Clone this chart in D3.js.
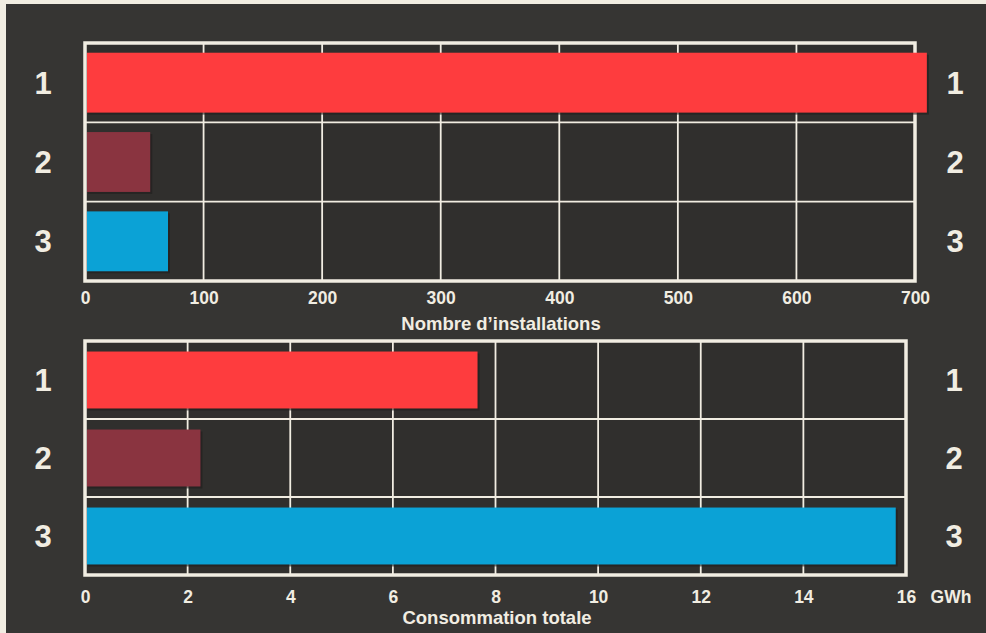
<!DOCTYPE html>
<html>
<head>
<meta charset="utf-8">
<script src="https://cdn.jsdelivr.net/npm/d3@7"></script>
<style>
  html, body { margin: 0; padding: 0; background: #f1ede2; }
  svg { display: block; }
  text { font-family: "Liberation Sans", Arial, Helvetica, sans-serif; font-weight: bold; fill: #f1ede2; }
</style>
</head>
<body>
<svg id="chart" width="986" height="633"></svg>
<script>
// ---- Data ----
const categories = ["1", "2", "3"];
const installations = [710, 55, 70];          // Nombre d'installations
const consumption = [7.65, 2.25, 15.8];        // Consommation totale (GWh)
const barColors = ["#fe3c3e", "#8a3440", "#0ba2d6"];
const installTicks = [0, 100, 200, 300, 400, 500, 600, 700];
const consTicks = [0, 2, 4, 6, 8, 10, 12, 14, 16];
const installTitle = "Nombre d’installations";
const consTitle = "Consommation totale";
const consUnit = "GWh";

// ---- Style ----
const BG = "#363533";
const CREAM = "#f1ede2";
const TICK_FS = 17.5;
const TITLE_FS = 18.5;

const svg = d3.select("#chart");
svg.append("rect").attr("x", 6).attr("y", 4).attr("width", 980).attr("height", 629).attr("fill", BG);

function drawPanel(opts) {
  const g = svg.append("g");
  const x = d3.scaleLinear().domain(opts.domain).range([opts.left, opts.right]);
  const y = d3.scaleBand().domain(categories).range([opts.top, opts.bottom]).padding(0);
  const bw = y.bandwidth();
  const barH = bw * opts.barFrac;

  // slightly darker panel interior
  g.append("rect")
    .attr("x", opts.left).attr("y", opts.top)
    .attr("width", opts.right - opts.left).attr("height", opts.bottom - opts.top)
    .attr("fill", "#302f2d");
  // vertical grid lines
  g.selectAll(".vgrid").data(opts.ticks.slice(1, -1)).join("line")
    .attr("x1", d => x(d)).attr("x2", d => x(d))
    .attr("y1", opts.top).attr("y2", opts.bottom)
    .attr("stroke", CREAM).attr("stroke-width", 1.8);
  // horizontal row separators
  g.selectAll(".hgrid").data(categories.slice(1)).join("line")
    .attr("x1", opts.left).attr("x2", opts.right)
    .attr("y1", d => y(d)).attr("y2", d => y(d))
    .attr("stroke", CREAM).attr("stroke-width", 1.8);
  // frame
  g.append("rect")
    .attr("x", opts.left).attr("y", opts.top)
    .attr("width", opts.right - opts.left).attr("height", opts.bottom - opts.top)
    .attr("fill", "none").attr("stroke", CREAM).attr("stroke-width", 3.5);

  const rows = categories.map((c, i) => ({ c, v: opts.values[i], color: barColors[i] }));
  // subtle bar shadows (right / bottom)
  g.selectAll(".shadow").data(rows).join("rect")
    .attr("x", x(0) + 3).attr("y", d => y(d.c) + (bw - barH) / 2 + 2)
    .attr("width", d => x(d.v) - x(0) - 1).attr("height", barH)
    .attr("fill", "#1f1e1d").attr("opacity", 0.6);
  // bars
  g.selectAll(".bar").data(rows).join("rect")
    .attr("x", x(0) + 2).attr("y", d => y(d.c) + (bw - barH) / 2)
    .attr("width", d => x(d.v) - x(0) - 2).attr("height", barH)
    .attr("fill", d => d.color);

  // row labels left and right
  const fs = 31;
  [opts.labelLeft, opts.labelRight].forEach(lx => {
    g.selectAll(null).data(categories).join("text")
      .attr("x", lx).attr("y", d => y(d) + bw / 2 + fs * 0.358)
      .attr("text-anchor", "middle").attr("font-size", fs).text(d => d);
  });

  // x axis
  const axis = d3.axisBottom(x).tickValues(opts.ticks).tickSize(0).tickPadding(0)
    .tickFormat(d3.format("d"));
  const ag = g.append("g").attr("transform", `translate(0,${opts.axisY})`).call(axis);
  ag.attr("font-size", null).attr("font-family", null);
  ag.select(".domain").remove();
  ag.selectAll("text")
    .attr("dy", null)
    .attr("y", TICK_FS * 0.716)
    .style("font-size", TICK_FS + "px")
    .style("fill", CREAM).style("font-weight", "bold");

  // title
  g.append("text").attr("x", opts.titleX).attr("y", opts.titleY)
    .attr("text-anchor", "middle").style("font-size", TITLE_FS + "px").text(opts.title);
  return { g, x };
}

drawPanel({
  domain: [0, 700], left: 85, right: 915, top: 43, bottom: 281,
  values: installations, ticks: installTicks, barFrac: 0.755,
  labelLeft: 43, labelRight: 955, axisY: 291.5,
  title: installTitle, titleX: 501, titleY: 329.5
});

drawPanel({
  domain: [0, 16], left: 85, right: 906, top: 341, bottom: 575,
  values: consumption, ticks: consTicks, barFrac: 0.73,
  labelLeft: 43, labelRight: 954, axisY: 590.5,
  title: consTitle, titleX: 497, titleY: 623.5
});

svg.append("text").attr("x", 951).attr("y", 590.5 + TICK_FS * 0.716)
  .attr("text-anchor", "middle").style("font-size", TICK_FS + "px").text(consUnit);
</script>
</body>
</html>
